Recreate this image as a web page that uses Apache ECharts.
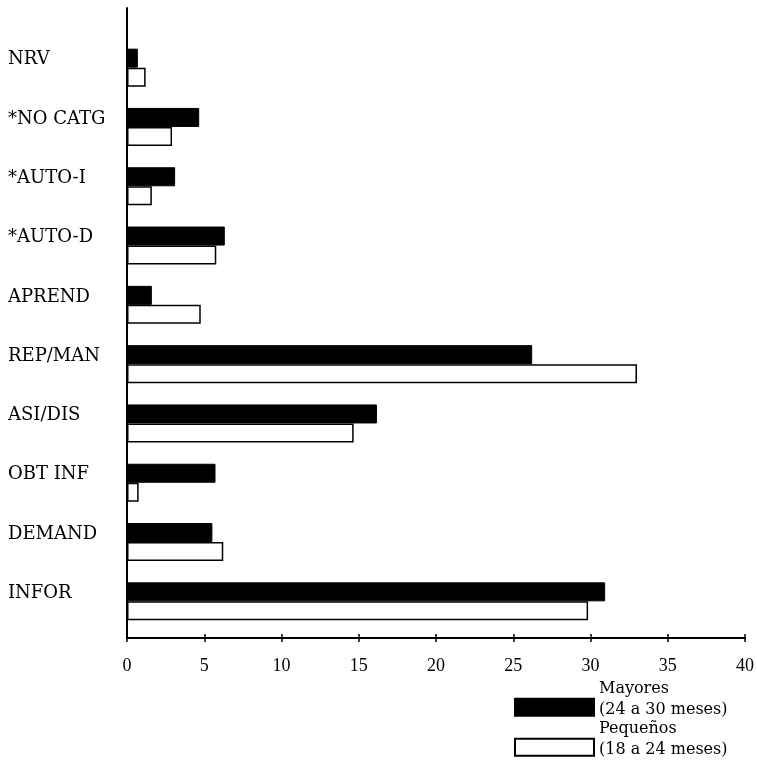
<!DOCTYPE html>
<html>
<head>
<meta charset="utf-8">
<script src="https://cdn.jsdelivr.net/npm/echarts@6/dist/echarts.min.js"></script>
<style>html,body{margin:0;padding:0;background:#fff;}#c{width:757px;height:776px;}</style>
</head>
<body>
<div id="c"></div>
<script>
const categories = ['NRV', '*NO CATG', '*AUTO-I', '*AUTO-D', 'APREND', 'REP/MAN', 'ASI/DIS', 'OBT INF', 'DEMAND', 'INFOR'];
const mayores = [0.7, 4.65, 3.1, 6.3, 1.6, 26.1, 16.1, 5.7, 5.5, 30.8];
const pequenos = [1.2, 2.9, 1.6, 5.75, 4.75, 32.85, 14.6, 0.75, 6.2, 29.7];
const xTicks = [0, 5, 10, 15, 20, 25, 30, 35, 40];
const seriesNames = ['Mayores\n(24 a 30 meses)', 'Pequeños\n(18 a 24 meses)'];

const chart = echarts.init(document.getElementById('c'), null, {renderer: 'canvas'});
const serif = 'Liberation Serif';
const catFont = 'DejaVu Serif';
const legendText = {
  color: '#000', fontFamily: catFont, fontSize: 16,
  rich: {
    a: {color: '#000', fontFamily: catFont, fontSize: 16, lineHeight: 20.5},
    b: {fontSize: 10, lineHeight: 16}
  }
};
const legendFormatter = name => name.split('\n').map(s => '{a|' + s + '}').join('\n') + '\n{b| }';
chart.setOption({
  animation: false,
  backgroundColor: '#fff',
  grid: [
    {left: 127, right: 9, top: 38, bottom: 145},
    {left: 127, right: 9, top: 8, bottom: 138}
  ],
  xAxis: [
    {gridIndex: 0, type: 'value', min: xTicks[0], max: xTicks[xTicks.length - 1], show: false},
    {gridIndex: 1, type: 'value', position: 'bottom', min: xTicks[0], max: xTicks[xTicks.length - 1], interval: 5,
      axisLine: {show: true, lineStyle: {color: '#000', width: 2}},
      axisTick: {show: true, length: 4, lineStyle: {color: '#000', width: 1.5}},
      axisLabel: {show: true, margin: 19, color: '#000', fontFamily: serif, fontSize: 18},
      splitLine: {show: false}},
    {gridIndex: 1, type: 'value', position: 'bottom', min: xTicks[0], max: xTicks[xTicks.length - 1], interval: 5,
      axisLine: {show: false},
      axisTick: {show: true, inside: true, length: 4, lineStyle: {color: '#000', width: 1.5}},
      axisLabel: {show: false},
      splitLine: {show: false}}
  ],
  yAxis: [
    {gridIndex: 0, type: 'category', data: categories, inverse: true,
      axisLine: {show: false}, axisTick: {show: false},
      axisLabel: {show: true, align: 'left', verticalAlign: 'bottom', lineHeight: 16, margin: 119, color: '#000', fontFamily: catFont, fontSize: 18},
      splitLine: {show: false}},
    {gridIndex: 1, type: 'value', min: 0, max: 1,
      axisLine: {show: true, lineStyle: {color: '#000', width: 2}},
      axisTick: {show: false}, axisLabel: {show: false}, splitLine: {show: false}}
  ],
  legend: [
    {orient: 'vertical', left: 514, top: 681, padding: 0, itemWidth: 79, itemHeight: 17, icon: 'rect',
      data: [seriesNames[0]], formatter: legendFormatter, textStyle: legendText},
    {orient: 'vertical', left: 514, top: 721, padding: 0, itemWidth: 79, itemHeight: 17, icon: 'rect',
      data: [seriesNames[1]], formatter: legendFormatter, textStyle: legendText}
  ],
  series: [
    {name: seriesNames[0], type: 'bar', xAxisIndex: 0, yAxisIndex: 0, data: mayores,
      barWidth: 19, barGap: '0%',
      itemStyle: {color: '#000', borderColor: '#000', borderWidth: 1}},
    {name: seriesNames[1], type: 'bar', xAxisIndex: 0, yAxisIndex: 0, data: pequenos,
      barWidth: 19, barGap: '0%',
      itemStyle: {color: '#fff', borderColor: '#000', borderWidth: 1.5}}
  ]
});
</script>
</body>
</html>
